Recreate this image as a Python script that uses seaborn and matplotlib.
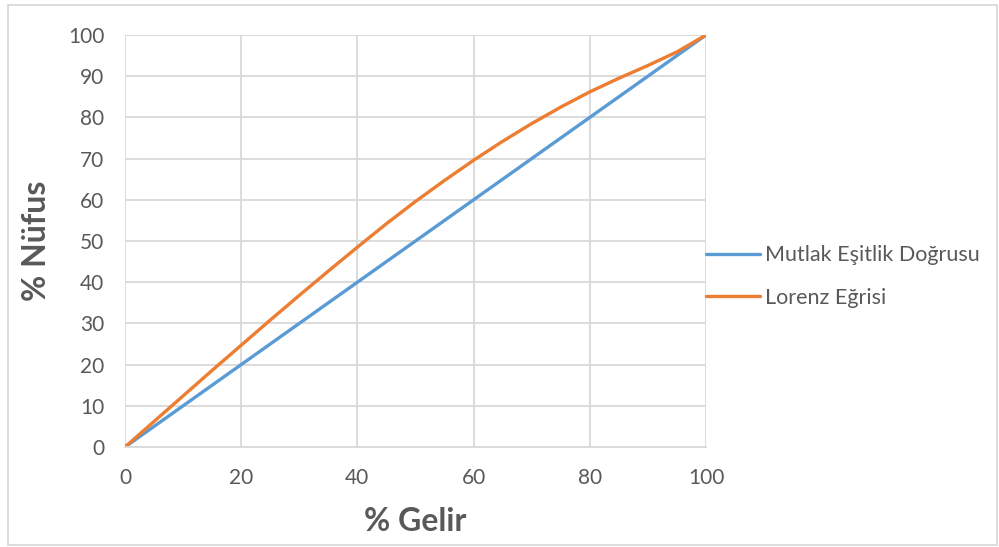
import numpy as np
import pandas as pd
import matplotlib
matplotlib.use("Agg")
import matplotlib.pyplot as plt
import seaborn as sns
from matplotlib.patches import Rectangle

# DATA
gelir = [0, 5, 10, 15, 20, 25, 30, 35, 40, 45, 50,
         55, 60, 65, 70, 75, 80, 85, 90, 95, 100]
esitlik = [0, 5, 10, 15, 20, 25, 30, 35, 40, 45, 50,
           55, 60, 65, 70, 75, 80, 85, 90, 95, 100]
lorenz = [0, 6.2, 12.4, 18.6, 24.7, 30.8, 36.8, 42.7, 48.5, 54.2, 59.6,
          64.7, 69.6, 74.2, 78.5, 82.5, 86.2, 89.5, 92.6, 95.9, 100]
series_names = ["Mutlak Eşitlik Doğrusu", "Lorenz Eğrisi"]
x_ticks = [0, 20, 40, 60, 80, 100]
y_ticks = [0, 10, 20, 30, 40, 50, 60, 70, 80, 90, 100]

df = pd.DataFrame({
    "gelir": gelir * 2,
    "nufus": esitlik + lorenz,
    "seri": [series_names[0]] * len(gelir) + [series_names[1]] * len(gelir),
})

sns.set_style("white")
plt.rcParams["font.family"] = ["Lato", "DejaVu Sans"]

TXT = "#595959"
GRID = "#D9D9D9"

fig = plt.figure(figsize=(9.99, 5.47), dpi=100)
ax = fig.add_axes([0.1251, 0.1828, 0.5816, 0.7532])

sns.lineplot(
    data=df, x="gelir", y="nufus", hue="seri",
    palette=["#5B9BD5", "#ED7D31"], linewidth=2.4, ax=ax,
)

ax.set_xlim(0, 100)
ax.set_ylim(0, 100)
ax.set_xticks(x_ticks)
ax.set_yticks(y_ticks)
ax.grid(True, color=GRID, linewidth=1.3)
ax.set_axisbelow(True)
for s in ax.spines.values():
    s.set_visible(False)
ax.spines["bottom"].set_visible(True)
ax.spines["bottom"].set_color(GRID)
ax.spines["bottom"].set_linewidth(1.3)
ax.tick_params(length=0, labelsize=15, labelcolor=TXT)
ax.tick_params(axis="y", pad=15)
ax.tick_params(axis="x", pad=15)

ax.set_xlabel("% Gelir", fontsize=23, fontweight="bold", color=TXT, labelpad=14)
ax.set_ylabel("% Nüfus", fontsize=23, fontweight="bold", color=TXT, labelpad=12)

handles, labels = ax.get_legend_handles_labels()
ax.legend(
    handles, labels, loc="center left", bbox_to_anchor=(1.0, 0.414),
    frameon=False, fontsize=15.5, labelcolor=TXT, handlelength=2.5,
    handletextpad=0.25, labelspacing=1.05, borderpad=0, borderaxespad=0,
)

fig.patches.append(Rectangle((0.008, 0.004), 0.990, 0.986, transform=fig.transFigure,
                             fill=False, edgecolor=GRID, linewidth=1.3))

fig.savefig("out.png", dpi=100)
